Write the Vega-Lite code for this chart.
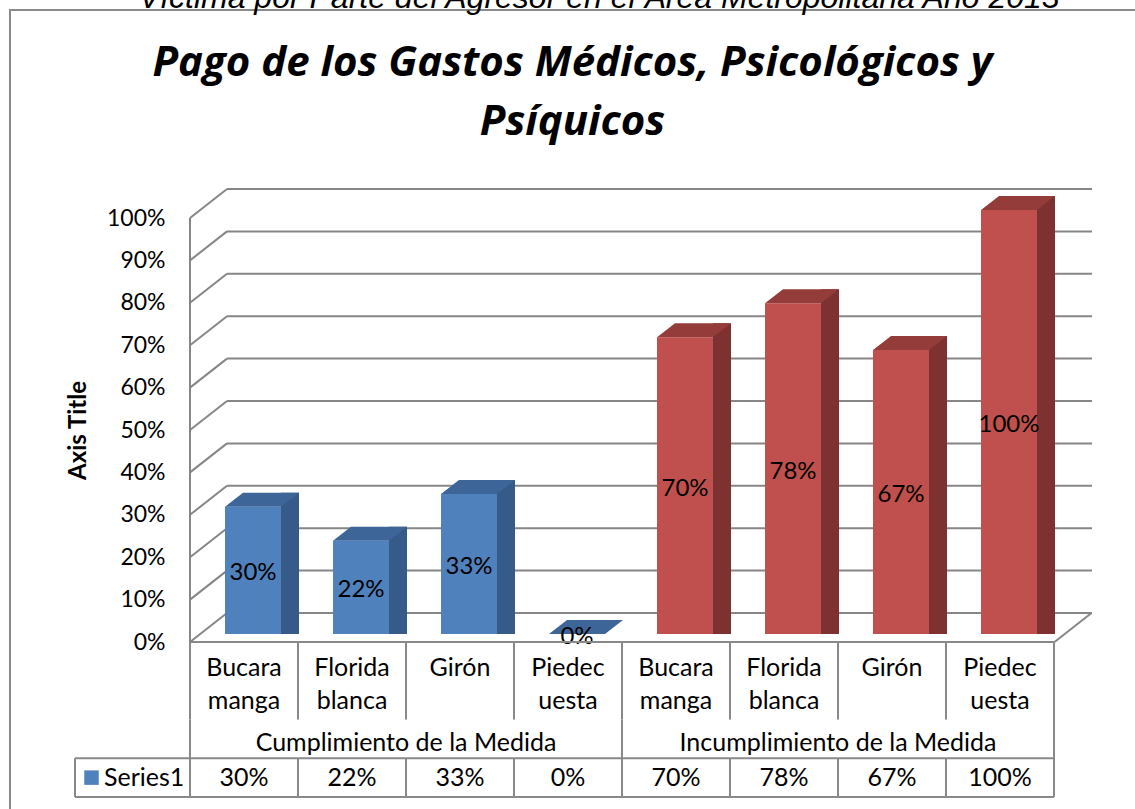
{
  "$schema": "https://vega.github.io/schema/vega-lite/v6.json",
  "width": 1125,
  "height": 799,
  "autosize": {"type": "none"},
  "padding": {"left": 10, "top": 10, "right": 0, "bottom": 0},
  "background": "white",
  "config": {"view": {"stroke": "#8a8a8a", "strokeWidth": 2, "strokeDash": [1125, 1924]}, "font": "Lato"},
  "title": {
    "text": "\u200b\u00a0\u00a0\u00a0\u00a0\u00a0\u00a0Víctima por Parte del Agresor en el Área Metropolitana Año 2013",
    "subtitle": ["Pago de los Gastos Médicos, Psicológicos y", "Psíquicos"],
    "anchor": "middle",
    "offset": -134,
    "font": "Liberation Sans",
    "fontSize": 32,
    "fontStyle": "italic",
    "fontWeight": "normal",
    "color": "black",
    "subtitleFont": "Open Sans",
    "subtitleFontSize": 42,
    "subtitleFontStyle": "italic",
    "subtitleFontWeight": "bold",
    "subtitleColor": "black",
    "subtitleLineHeight": 59,
    "subtitlePadding": 28
  },
  "datasets": {
    "datos": [
      {"clave": "C-Bucaramanga", "grupo": "Cumplimiento de la Medida", "municipio": "Bucaramanga", "rotulo": "Bucara\nmanga", "valor": 0.30},
      {"clave": "C-Floridablanca", "grupo": "Cumplimiento de la Medida", "municipio": "Floridablanca", "rotulo": "Florida\nblanca", "valor": 0.22},
      {"clave": "C-Girón", "grupo": "Cumplimiento de la Medida", "municipio": "Girón", "rotulo": "Girón", "valor": 0.33},
      {"clave": "C-Piedecuesta", "grupo": "Cumplimiento de la Medida", "municipio": "Piedecuesta", "rotulo": "Piedec\nuesta", "valor": 0.00},
      {"clave": "I-Bucaramanga", "grupo": "Incumplimiento de la Medida", "municipio": "Bucaramanga", "rotulo": "Bucara\nmanga", "valor": 0.70},
      {"clave": "I-Floridablanca", "grupo": "Incumplimiento de la Medida", "municipio": "Floridablanca", "rotulo": "Florida\nblanca", "valor": 0.78},
      {"clave": "I-Girón", "grupo": "Incumplimiento de la Medida", "municipio": "Girón", "rotulo": "Girón", "valor": 0.67},
      {"clave": "I-Piedecuesta", "grupo": "Incumplimiento de la Medida", "municipio": "Piedecuesta", "rotulo": "Piedec\nuesta", "valor": 1.00}
    ],
    "niveles": [
      {"nivel": 0}, {"nivel": 0.1}, {"nivel": 0.2}, {"nivel": 0.3}, {"nivel": 0.4}, {"nivel": 0.5},
      {"nivel": 0.6}, {"nivel": 0.7}, {"nivel": 0.8}, {"nivel": 0.9}, {"nivel": 1}
    ],
    "serie": [{"serie": "Series1"}]
  },
  "data": {"name": "datos"},
  "layer": [
    {
      "layer": [
        {
          "data": {"name": "niveles"},
          "mark": {"type": "rule", "color": "#868686", "strokeWidth": 2, "xOffset": 37, "x2Offset": 38, "yOffset": -21},
          "encoding": {
            "x": {
              "datum": "C-Bucaramanga", "type": "nominal", "bandPosition": 0,
              "scale": {
                "type": "band",
                "domain": ["C-Bucaramanga", "C-Floridablanca", "C-Girón", "C-Piedecuesta", "I-Bucaramanga", "I-Floridablanca", "I-Girón", "I-Piedecuesta"],
                "range": [180, 1044],
                "paddingInner": 0,
                "paddingOuter": 0
              },
              "axis": null
            },
            "x2": {"datum": "I-Piedecuesta", "bandPosition": 1},
            "y": {
              "field": "nivel", "type": "quantitative",
              "scale": {"domain": [0, 1], "range": [624, 200], "nice": false, "zero": false},
              "axis": {
                "orient": "left",
                "offset": -180,
                "values": [0, 0.1, 0.2, 0.3, 0.4, 0.5, 0.6, 0.7, 0.8, 0.9, 1],
                "format": ".0%",
                "labelOffset": 8,
                "domain": false,
                "ticks": false,
                "grid": false,
                "labelFont": "Lato",
                "labelFontSize": 23,
                "labelColor": "black",
                "labelPadding": 25,
                "labelOverlap": false,
                "title": "Axis Title",
                "titleFont": "Lato",
                "titleFontSize": 24,
                "titleFontWeight": "bold",
                "titleColor": "black",
                "titlePadding": 16,
                "titleY": 420
              }
            }
          }
        },
        {
          "data": {"name": "niveles"},
          "mark": {"type": "point", "shape": "M-0.74,0.58L0.74,-0.58", "size": 2500, "filled": false, "color": "#868686", "strokeWidth": 2, "opacity": 1, "xOffset": 18.5, "yOffset": -6.5},
          "encoding": {
            "x": {"datum": "C-Bucaramanga", "type": "nominal", "bandPosition": 0, "axis": null},
            "y": {"field": "nivel", "type": "quantitative"}
          }
        },
        {
          "data": {"name": "niveles"},
          "transform": [{"filter": "datum.nivel === 0"}],
          "mark": {"type": "point", "shape": "M-0.74,0.58L0.74,-0.58", "size": 2500, "filled": false, "color": "#868686", "strokeWidth": 2, "opacity": 1, "xOffset": 19, "yOffset": -6.5},
          "encoding": {
            "x": {"datum": "I-Piedecuesta", "type": "nominal", "bandPosition": 1, "axis": null},
            "y": {"field": "nivel", "type": "quantitative"}
          }
        },
        {
          "data": {"name": "niveles"},
          "transform": [{"filter": "datum.nivel === 1"}],
          "mark": {"type": "rule", "color": "#868686", "strokeWidth": 2, "yOffset": 8, "y2Offset": 8},
          "encoding": {
            "x": {"datum": "C-Bucaramanga", "type": "nominal", "bandPosition": 0, "axis": null},
            "y": {"field": "nivel", "type": "quantitative"},
            "y2": {"datum": 0}
          }
        },
        {
          "transform": [{"filter": "datum.valor > 0"}],
          "mark": {"type": "bar", "width": 18, "xOffset": 46, "yOffset": -14, "y2Offset": -7},
          "encoding": {
            "x": {"field": "clave", "type": "nominal", "axis": null},
            "y": {"field": "valor", "type": "quantitative", "stack": null},
            "color": {"condition": {"test": "datum.grupo === 'Cumplimiento de la Medida'", "value": "#365B88"}, "value": "#7D3130"}
          }
        },
        {
          "mark": {"type": "bar", "width": 56, "xOffset": 9},
          "encoding": {
            "x": {"field": "clave", "type": "nominal", "axis": null},
            "y": {"field": "valor", "type": "quantitative", "stack": null},
            "color": {"condition": {"test": "datum.grupo === 'Cumplimiento de la Medida'", "value": "#4F81BD"}, "value": "#C0504D"}
          }
        },
        {
          "mark": {"type": "point", "shape": "M-0.56,0L0.56,0L0.92,-0.28L-0.2,-0.28Z", "size": 10000, "filled": true, "opacity": 1, "strokeWidth": 0, "xOffset": 9},
          "encoding": {
            "x": {"field": "clave", "type": "nominal", "axis": null},
            "y": {"field": "valor", "type": "quantitative"},
            "color": {"condition": {"test": "datum.grupo === 'Cumplimiento de la Medida'", "value": "#3D6597"}, "value": "#943C3A"}
          }
        },
        {
          "mark": {"type": "text", "font": "Lato", "fontSize": 24, "color": "black", "baseline": "middle", "dy": 3, "xOffset": 9},
          "encoding": {
            "x": {"field": "clave", "type": "nominal", "axis": null},
            "y": {"field": "valor", "type": "quantitative", "stack": "zero", "bandPosition": 0.5},
            "text": {"field": "valor", "format": ".0%"}
          }
        }
      ]
    },
    {
      "layer": [
        {
          "data": {"name": "serie"},
          "mark": {"type": "rule", "color": "#898989", "strokeWidth": 2},
          "encoding": {
            "x": {"datum": "C-Bucaramanga", "type": "nominal", "bandPosition": 0, "axis": null},
            "x2": {"datum": "I-Piedecuesta", "bandPosition": 1},
            "y": {
              "datum": "municipio", "type": "nominal", "bandPosition": 0,
              "scale": {"type": "band", "domain": ["municipio", "municipio2", "grupo", "serie"], "range": [632, 787], "paddingInner": 0, "paddingOuter": 0},
              "axis": null
            }
          }
        },
        {
          "data": {"name": "serie"},
          "mark": {"type": "rule", "color": "#898989", "strokeWidth": 2, "xOffset": -115},
          "encoding": {
            "x": {"datum": "C-Bucaramanga", "type": "nominal", "bandPosition": 0, "axis": null},
            "x2": {"datum": "I-Piedecuesta", "bandPosition": 1},
            "y": {"datum": "serie", "type": "nominal", "bandPosition": 0, "axis": null}
          }
        },
        {
          "data": {"name": "serie"},
          "mark": {"type": "rule", "color": "#898989", "strokeWidth": 2, "xOffset": -115},
          "encoding": {
            "x": {"datum": "C-Bucaramanga", "type": "nominal", "bandPosition": 0, "axis": null},
            "x2": {"datum": "I-Piedecuesta", "bandPosition": 1},
            "y": {"datum": "serie", "type": "nominal", "bandPosition": 1, "axis": null}
          }
        },
        {
          "mark": {"type": "rule", "color": "#898989", "strokeWidth": 2},
          "encoding": {
            "x": {"field": "clave", "type": "nominal", "bandPosition": 0, "axis": null},
            "y": {"datum": "municipio", "type": "nominal", "bandPosition": 0, "axis": null},
            "y2": {"datum": "municipio2", "bandPosition": 1}
          }
        },
        {
          "mark": {"type": "rule", "color": "#898989", "strokeWidth": 2},
          "encoding": {
            "x": {"field": "clave", "type": "nominal", "bandPosition": 0, "axis": null},
            "y": {"datum": "serie", "type": "nominal", "bandPosition": 0, "axis": null},
            "y2": {"datum": "serie", "bandPosition": 1}
          }
        },
        {
          "transform": [{"filter": "datum.municipio === 'Bucaramanga'"}],
          "mark": {"type": "rule", "color": "#898989", "strokeWidth": 2},
          "encoding": {
            "x": {"field": "clave", "type": "nominal", "bandPosition": 0, "axis": null},
            "y": {"datum": "grupo", "type": "nominal", "bandPosition": 0, "axis": null},
            "y2": {"datum": "grupo", "bandPosition": 1}
          }
        },
        {
          "data": {"name": "serie"},
          "mark": {"type": "rule", "color": "#898989", "strokeWidth": 2},
          "encoding": {
            "x": {"datum": "I-Piedecuesta", "type": "nominal", "bandPosition": 1, "axis": null},
            "y": {"datum": "municipio", "type": "nominal", "bandPosition": 0, "axis": null},
            "y2": {"datum": "serie", "bandPosition": 1}
          }
        },
        {
          "data": {"name": "serie"},
          "mark": {"type": "rule", "color": "#898989", "strokeWidth": 2, "xOffset": -115},
          "encoding": {
            "x": {"datum": "C-Bucaramanga", "type": "nominal", "bandPosition": 0, "axis": null},
            "y": {"datum": "serie", "type": "nominal", "bandPosition": 0, "axis": null},
            "y2": {"datum": "serie", "bandPosition": 1}
          }
        },
        {
          "mark": {"type": "text", "font": "Lato", "fontSize": 25, "color": "black", "baseline": "top", "lineBreak": "\n", "lineHeight": 33},
          "encoding": {
            "x": {"field": "clave", "type": "nominal", "axis": null},
            "y": {"datum": "municipio", "type": "nominal", "bandPosition": 0.36, "axis": null},
            "text": {"field": "rotulo"}
          }
        },
        {
          "transform": [{"filter": "datum.municipio === 'Girón'"}],
          "mark": {"type": "text", "font": "Lato", "fontSize": 25, "color": "black", "baseline": "middle"},
          "encoding": {
            "x": {"field": "clave", "type": "nominal", "bandPosition": 0, "axis": null},
            "y": {"datum": "grupo", "type": "nominal", "bandPosition": 0.6, "axis": null},
            "text": {"field": "grupo"}
          }
        },
        {
          "mark": {"type": "text", "font": "Lato", "fontSize": 25, "color": "black", "baseline": "middle"},
          "encoding": {
            "x": {"field": "clave", "type": "nominal", "axis": null},
            "y": {"datum": "serie", "type": "nominal", "axis": null},
            "text": {"field": "valor", "format": ".0%"}
          }
        },
        {
          "data": {"name": "serie"},
          "mark": {"type": "point", "shape": "square", "size": 210, "filled": true, "opacity": 1, "color": "#4F81BD", "xOffset": -98.5},
          "encoding": {
            "x": {"datum": "C-Bucaramanga", "type": "nominal", "bandPosition": 0, "axis": null},
            "y": {"datum": "serie", "type": "nominal", "axis": null}
          }
        },
        {
          "data": {"name": "serie"},
          "mark": {"type": "text", "font": "Lato", "fontSize": 25, "color": "black", "baseline": "middle", "align": "left", "xOffset": -86},
          "encoding": {
            "x": {"datum": "C-Bucaramanga", "type": "nominal", "bandPosition": 0, "axis": null},
            "y": {"datum": "serie", "type": "nominal", "axis": null},
            "text": {"field": "serie"}
          }
        }
      ]
    }
  ],
  "resolve": {"scale": {"y": "independent"}}
}
